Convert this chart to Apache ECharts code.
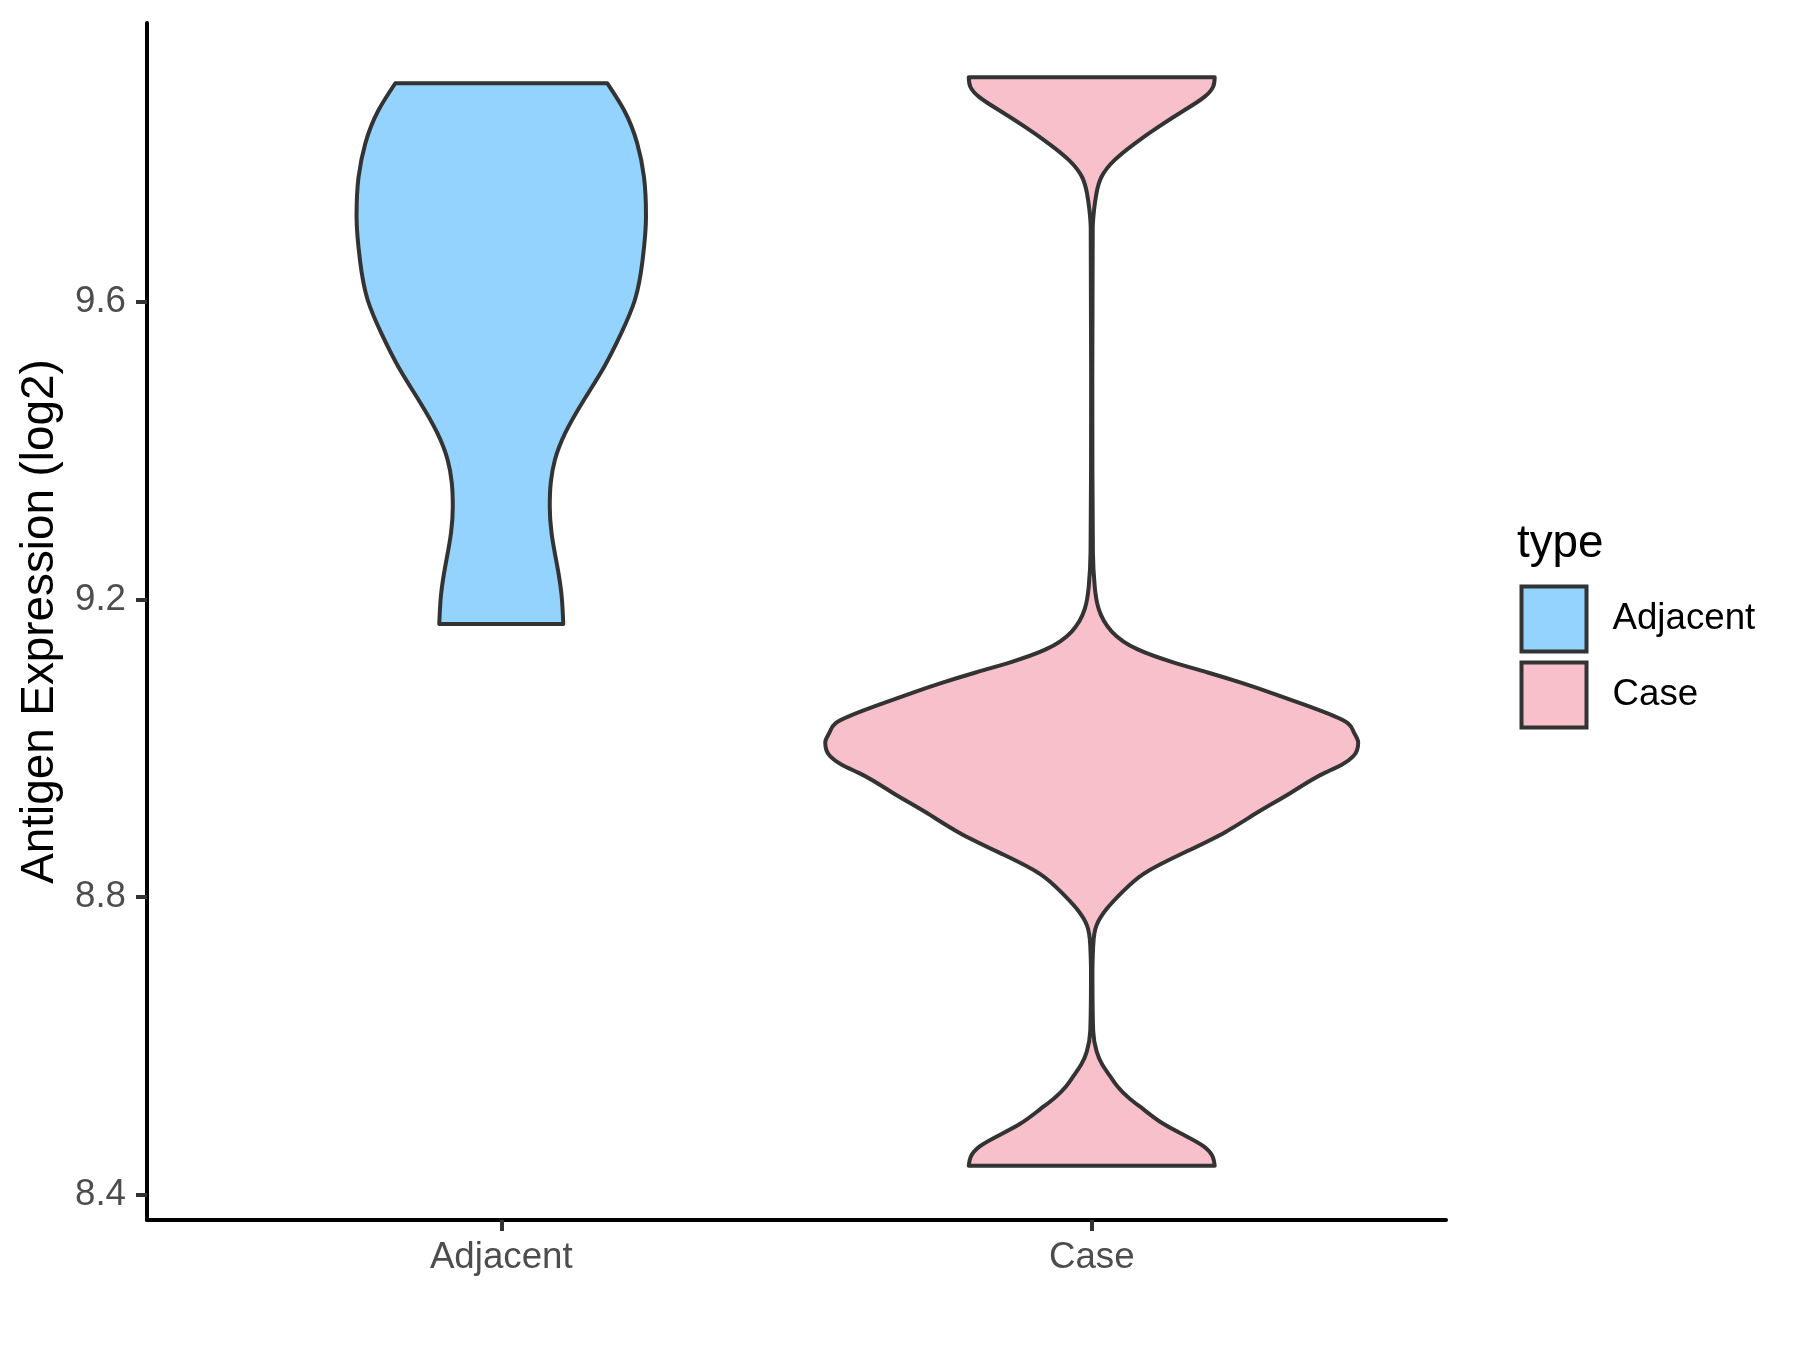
<!DOCTYPE html>
<html>
<head>
<meta charset="utf-8">
<script src="https://cdn.jsdelivr.net/npm/echarts@6/dist/echarts.min.js"></script>
<style>
html,body{margin:0;padding:0;background:#fff;}
#chart{width:1800px;height:1350px;}
</style>
</head>
<body>
<div id="chart"></div>
<script>
// ---- data ----
const categories = ['Adjacent', 'Case'];
const yTicks = [8.4, 8.8, 9.2, 9.6];

// Adjacent violin: y values (log2 expression) and half-widths (in category units)
const adjacentY = [9.167, 9.206, 9.245, 9.289, 9.325, 9.357, 9.388, 9.424, 9.468, 9.513, 9.558, 9.603, 9.656, 9.715, 9.768, 9.813, 9.858, 9.894];
const adjacentW = [0.1050, 0.1021, 0.0948, 0.0852, 0.0821, 0.0838, 0.0909, 0.1084, 0.1397, 0.1744, 0.2032, 0.2264, 0.2393, 0.2451, 0.2417, 0.2303, 0.2078, 0.1795];

// Case violin
const caseY = [8.439, 8.451, 8.465, 8.479, 8.495, 8.515, 8.529, 8.545, 8.560, 8.575, 8.592, 8.620, 8.700, 8.735, 8.762, 8.784, 8.808, 8.831, 8.857, 8.887, 8.914, 8.941, 8.967, 8.978, 8.990, 9.008, 9.022, 9.034, 9.043, 9.057, 9.073, 9.088, 9.102, 9.115, 9.133, 9.157, 9.187, 9.217, 9.264, 9.500, 9.700, 9.7235, 9.746, 9.768, 9.791, 9.813, 9.835, 9.858, 9.876, 9.889, 9.902];
const caseW = [0.2083, 0.2049, 0.1897, 0.1592, 0.1219, 0.0872, 0.0644, 0.0440, 0.0305, 0.0178, 0.0085, 0.0025, 0.0012, 0.0025, 0.0081, 0.0251, 0.0533, 0.0872, 0.1490, 0.2253, 0.2811, 0.3387, 0.3946, 0.4234, 0.4437, 0.4513, 0.4437, 0.4336, 0.4115, 0.3658, 0.3099, 0.2540, 0.1965, 0.1406, 0.0779, 0.0339, 0.0119, 0.0051, 0.0020, 0.0010, 0.0017, 0.0039, 0.0080, 0.0164, 0.0390, 0.0728, 0.1123, 0.1575, 0.1914, 0.2054, 0.2083];

const fills = ['#93D3FE', '#F7C0CB'];
const FONT = '"Liberation Sans", Arial, Helvetica, sans-serif';

// knot slopes of a natural cubic spline, then a Fritsch-Carlson limiter so widths never dip below zero
function slopes(x, y) {
  const n = x.length, h = [], d = [];
  for (let i = 0; i < n - 1; i++) { h.push(x[i + 1] - x[i]); d.push((y[i + 1] - y[i]) / h[i]); }
  // solve for second derivatives M (natural: M0 = Mn-1 = 0)
  const M = new Array(n).fill(0);
  if (n > 2) {
    const a = [], b = [], c = [], r = [];
    for (let i = 1; i < n - 1; i++) {
      a.push(h[i - 1]); b.push(2 * (h[i - 1] + h[i])); c.push(h[i]); r.push(6 * (d[i] - d[i - 1]));
    }
    const k = b.length;
    for (let i = 1; i < k; i++) { const w = a[i] / b[i - 1]; b[i] -= w * c[i - 1]; r[i] -= w * r[i - 1]; }
    const s = new Array(k);
    s[k - 1] = r[k - 1] / b[k - 1];
    for (let i = k - 2; i >= 0; i--) s[i] = (r[i] - c[i] * s[i + 1]) / b[i];
    for (let i = 0; i < k; i++) M[i + 1] = s[i];
  }
  const m = new Array(n);
  for (let i = 0; i < n - 1; i++) m[i] = d[i] - h[i] * (2 * M[i] + M[i + 1]) / 6;
  m[n - 1] = d[n - 2] + h[n - 2] * (M[n - 2] + 2 * M[n - 1]) / 6;
  for (let kk = 0; kk < n - 1; kk++) {
    if (d[kk] === 0) { m[kk] = 0; m[kk + 1] = 0; continue; }
    let al = m[kk] / d[kk], be = m[kk + 1] / d[kk];
    if (al < 0) { m[kk] = 0; al = 0; }
    if (be < 0) { m[kk + 1] = 0; be = 0; }
    const s2 = al * al + be * be;
    if (s2 > 9) { const t = 3 / Math.sqrt(s2); m[kk] = t * al * d[kk]; m[kk + 1] = t * be * d[kk]; }
  }
  return m;
}

function violinPath(api, cat, ys, ws) {
  const n = ys.length, m = slopes(ys, ws);
  const P = (x, y) => { const p = api.coord([x, y]); return p[0].toFixed(2) + ' ' + p[1].toFixed(2); };
  let d = 'M ' + P(cat - ws[0], ys[0]) + ' L ' + P(cat + ws[0], ys[0]);
  for (let i = 0; i < n - 1; i++) {
    const h = ys[i + 1] - ys[i];
    d += ' C ' + P(cat + ws[i] + m[i] * h / 3, ys[i] + h / 3) + ' ' +
      P(cat + ws[i + 1] - m[i + 1] * h / 3, ys[i + 1] - h / 3) + ' ' + P(cat + ws[i + 1], ys[i + 1]);
  }
  d += ' L ' + P(cat - ws[n - 1], ys[n - 1]);
  for (let i = n - 2; i >= 0; i--) {
    const h = ys[i + 1] - ys[i];
    d += ' C ' + P(cat - (ws[i + 1] - m[i + 1] * h / 3), ys[i + 1] - h / 3) + ' ' +
      P(cat - (ws[i] + m[i] * h / 3), ys[i] + h / 3) + ' ' + P(cat - ws[i], ys[i]);
  }
  return d + ' Z';
}

const profiles = [[adjacentY, adjacentW], [caseY, caseW]];

function makeSeries(idx) {
  return {
    type: 'custom',
    name: categories[idx],
    coordinateSystem: 'cartesian2d',
    itemStyle: { color: fills[idx], borderColor: '#333333', borderWidth: 4 },
    data: [[idx + 1, profiles[idx][0][0]]],
    encode: { x: 0, y: 1 },
    silent: true,
    renderItem: function (params, api) {
      return {
        type: 'path',
        shape: { pathData: violinPath(api, idx + 1, profiles[idx][0], profiles[idx][1]) },
        style: { fill: fills[idx], stroke: '#333333', lineWidth: 4, lineJoin: 'round' }
      };
    }
  };
}

const chart = echarts.init(document.getElementById('chart'), null, { renderer: 'canvas' });
chart.setOption({
  animation: false,
  backgroundColor: '#ffffff',
  textStyle: { fontFamily: FONT },
  grid: { left: 147, right: 354, top: 23, bottom: 130, containLabel: false },
  title: {
    text: 'type', left: 1517, top: 521, padding: 0,
    textStyle: { fontFamily: FONT, fontSize: 45.8, fontWeight: 'normal', color: '#000000' }
  },
  legend: {
    orient: 'vertical', left: 1519.5, top: 584.5, padding: 0,
    itemWidth: 65, itemHeight: 65, itemGap: 7, icon: 'rect',
    itemStyle: { borderColor: '#333333', borderWidth: 4 },
    textStyle: { fontFamily: FONT, fontSize: 36.7, color: '#000000', padding: [0, 0, 0, 21] },
    data: categories,
    selectedMode: false
  },
  xAxis: {
    type: 'value', min: 0.4, max: 2.6,
    splitLine: { show: false },
    axisLine: { show: true, onZero: false, lineStyle: { color: '#000000', width: 4 } },
    axisTick: { show: true, customValues: [1, 2], length: 11, lineStyle: { color: '#333333', width: 4 } },
    axisLabel: {
      customValues: [1, 2], margin: 19,
      formatter: function (v) { return categories[Math.round(v) - 1]; },
      fontFamily: FONT, fontSize: 36.7, color: '#4D4D4D'
    }
  },
  yAxis: {
    type: 'value', min: 8.366, max: 9.975,
    splitLine: { show: false },
    axisLine: { show: true, onZero: false, lineStyle: { color: '#000000', width: 4 } },
    axisTick: { show: true, customValues: yTicks, length: 11, lineStyle: { color: '#333333', width: 4 } },
    axisLabel: {
      customValues: yTicks, margin: 21,
      formatter: function (v) { return v.toFixed(1); },
      fontFamily: FONT, fontSize: 36.7, color: '#4D4D4D'
    },
    name: 'Antigen Expression (log2)', nameLocation: 'middle', nameGap: 84,
    nameTextStyle: { fontFamily: FONT, fontSize: 45.8, color: '#000000' }
  },
  series: [makeSeries(0), makeSeries(1)]
});
</script>
</body>
</html>
